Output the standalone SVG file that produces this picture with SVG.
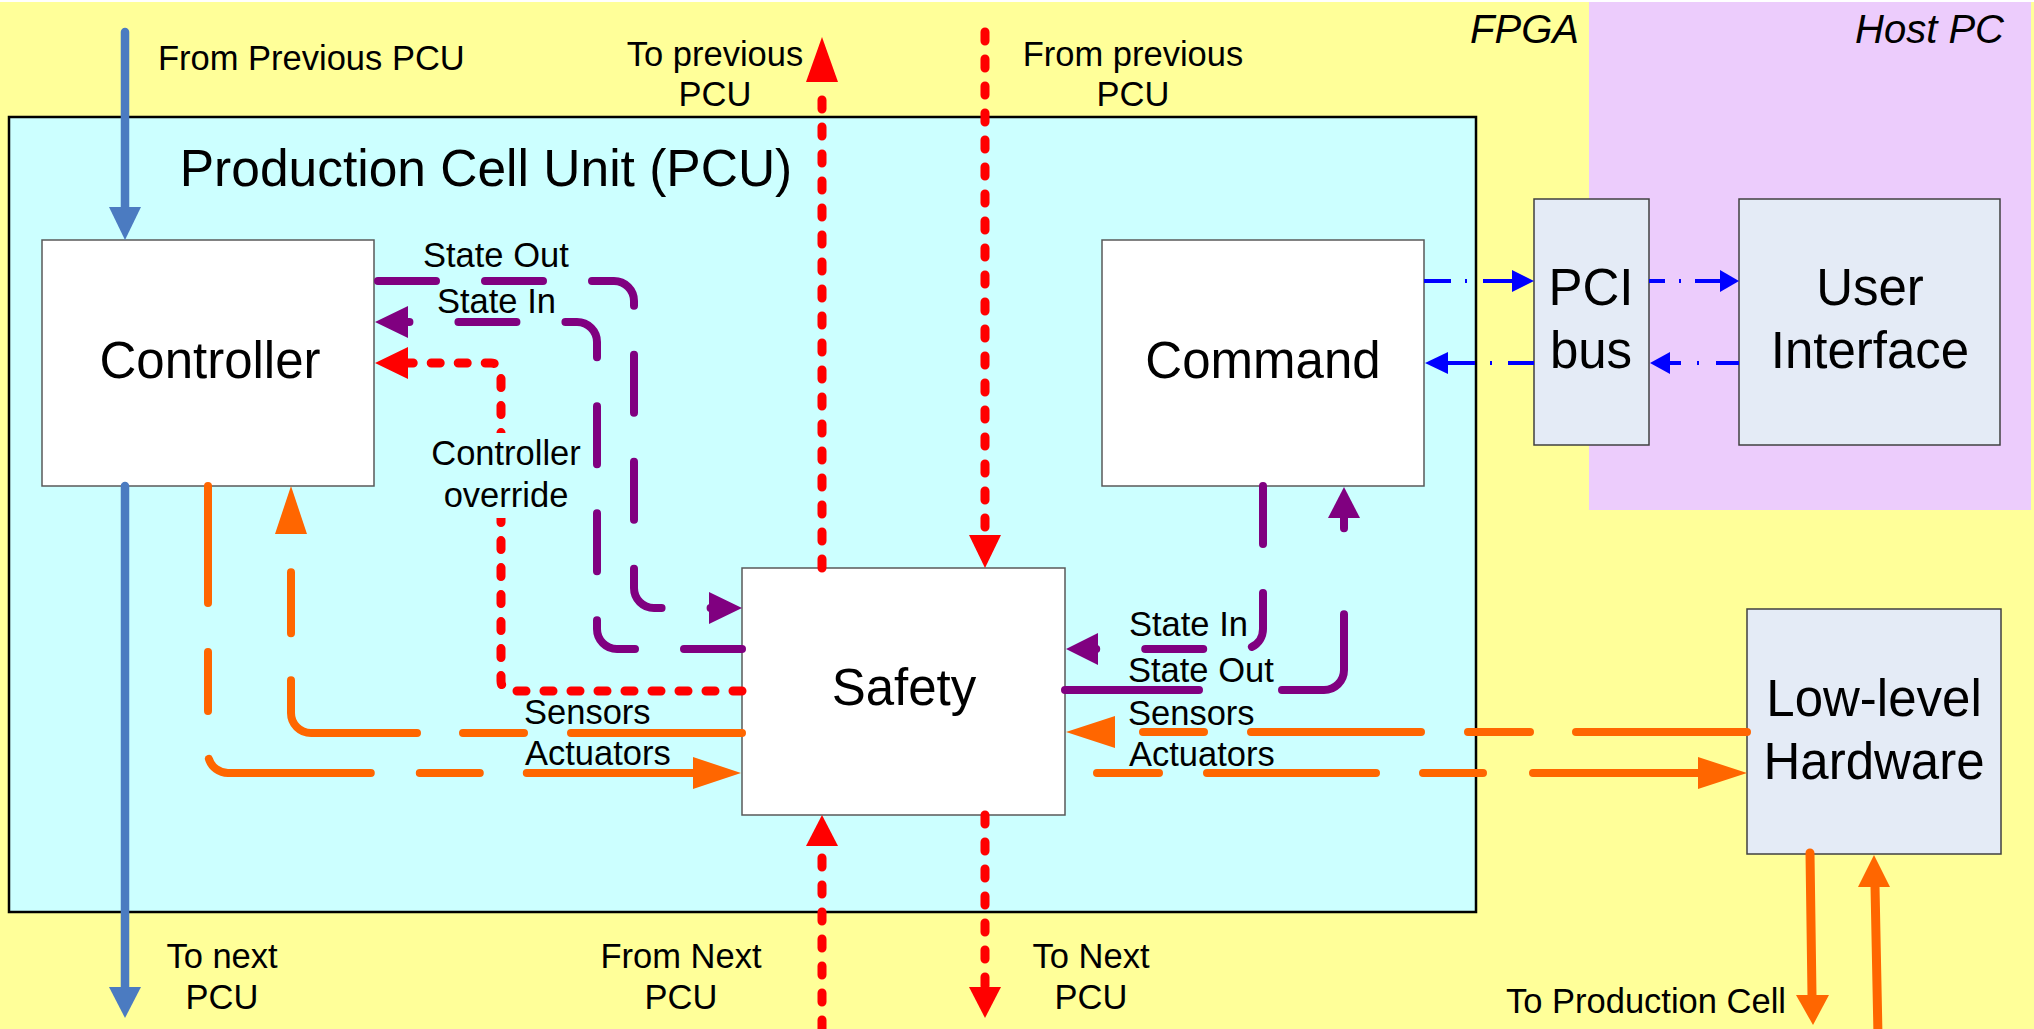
<svg xmlns="http://www.w3.org/2000/svg" width="2034" height="1029" viewBox="0 0 2034 1029">
<defs>
<style>
text{font-family:"Liberation Sans",Arial,sans-serif;fill:#000}
.big{font-size:51px}
.lbl{font-size:34.5px}
.reg{font-size:40px;font-style:italic}
.mid{text-anchor:middle}
.wbox{fill:#fff;stroke:#595959;stroke-width:1.5}
.gbox{fill:#E4EBF6;stroke:#404040;stroke-width:1.5}
.pur{fill:none;stroke:#800080;stroke-width:8;stroke-linecap:round}
.org{fill:none;stroke:#FF6600;stroke-width:8;stroke-linecap:round}
.red{fill:none;stroke:#FF0000;stroke-width:9;stroke-linecap:round;stroke-dasharray:9 18}
.blu{fill:none;stroke:#0000FF;stroke-width:4}
.stb{fill:none;stroke:#4B7BC1;stroke-width:8.5;stroke-linecap:round}
.hp{fill:#800080}.ho{fill:#FF6600}.hr{fill:#FF0000}.hb{fill:#0000FF}.hs{fill:#4B7BC1}
</style>
</defs>
<rect width="2034" height="1029" fill="#fff"/>
<g id="fpga-region">
<rect x="0" y="2" width="2034" height="1027" fill="#FFFF99"/>
<text class="reg" x="1579" y="43" text-anchor="end">FPGA</text>
</g>
<g id="host-region">
<rect x="1589" y="2" width="442" height="508" fill="#ECCCFC"/>
<text class="reg" x="2004" y="43" text-anchor="end">Host PC</text>
</g>
<g id="pcu">
<rect x="9" y="117" width="1467" height="795" fill="#CCFFFF" stroke="#000" stroke-width="2.5"/>
<text x="486" y="186" class="mid" style="font-size:51.5px">Production Cell Unit (PCU)</text>
</g>
<g id="controller">
<rect class="wbox" x="42" y="240" width="332" height="246"/>
<text class="big mid" x="210" y="378">Controller</text>
</g>
<g id="command">
<rect class="wbox" x="1102" y="240" width="322" height="246"/>
<text class="big mid" x="1263" y="378">Command</text>
</g>
<g id="safety">
<rect class="wbox" x="742" y="568" width="323" height="247"/>
<text class="big mid" x="904" y="705">Safety</text>
</g>
<g id="pci-bus">
<rect class="gbox" x="1534" y="199" width="115" height="246"/>
<text class="big mid" x="1591" y="305">PCI</text>
<text class="big mid" x="1591" y="368">bus</text>
</g>
<g id="user-interface">
<rect class="gbox" x="1739" y="199" width="261" height="246"/>
<text class="big mid" x="1870" y="305">User</text>
<text class="big mid" x="1870" y="368">Interface</text>
</g>
<g id="low-level-hardware">
<rect class="gbox" x="1747" y="609" width="254" height="245"/>
<text class="big mid" x="1874" y="716">Low-level</text>
<text class="big mid" x="1874" y="779">Hardware</text>
</g>
<g id="connectors">
<!-- PCU chain (steel blue) -->
<path class="stb" d="M125 32V208"/>
<polygon class="hs" points="109,207 141,207 125,240"/>
<path class="stb" d="M125 486V988"/>
<polygon class="hs" points="109,987 141,987 125,1018"/>
<!-- red safety chain -->
<path class="red" d="M822 568V84"/>
<polygon class="hr" points="806,82 838,82 822,37"/>
<path class="red" d="M985 32V535"/>
<polygon class="hr" points="969,535 1001,535 985,568"/>
<path class="red" d="M822 1029V847"/>
<polygon class="hr" points="806,846 838,846 822,815"/>
<path class="red" d="M985 815V987"/>
<polygon class="hr" points="969,987 1001,987 985,1018"/>
<!-- controller override -->
<path class="red" d="M742 691H511A10 10 0 0 1 501 681V373A10 10 0 0 0 491 363H408"/>
<polygon class="hr" points="408,347 408,379 375,363"/>
<!-- State Out (Controller -> Safety) -->
<path class="pur" stroke-dasharray="58 49" d="M378 281H614A20 20 0 0 1 634 301V588A20 20 0 0 0 654 608H712"/>
<polygon class="hp" points="709,592 709,624 742,608"/>
<!-- State In (Safety -> Controller) -->
<path class="pur" stroke-dasharray="58 49" d="M742 649H617A20 20 0 0 1 597 629V342A20 20 0 0 0 577 322H405"/>
<polygon class="hp" points="408,306 408,338 375,322"/>
<!-- State In (Command -> Safety) -->
<path class="pur" stroke-dasharray="58 49" d="M1263 486V629A20 20 0 0 1 1243 649H1095"/>
<polygon class="hp" points="1098,633 1098,665 1066,649"/>
<!-- State Out (Safety -> Command) -->
<path class="pur" stroke-dasharray="134 83 129 86 20" d="M1065 690H1324A20 20 0 0 0 1344 670V518"/>
<polygon class="hp" points="1328,518 1360,518 1344,487"/>
<!-- Actuators (Controller -> Safety) -->
<path class="org" stroke-dasharray="117 49 59 48 168 49 60 47 200" d="M208 486V753A20 20 0 0 0 228 773H694"/>
<polygon class="ho" points="693,757 693,789 741,773"/>
<!-- Sensors (Safety -> Controller) -->
<path class="org" stroke-dasharray="171 47 61 46 170 47 61 200" d="M742 733H311A20 20 0 0 1 291 713V534"/>
<polygon class="ho" points="275,534 307,534 291,486"/>
<!-- Sensors (Hardware -> Safety) -->
<path class="org" stroke-dasharray="171 46 62 47 170 47 61 200" d="M1747 732H1114"/>
<polygon class="ho" points="1115,716 1115,748 1066,732"/>
<!-- Actuators (Safety -> Hardware) -->
<path class="org" stroke-dasharray="62 48 169 47 60 50 300" d="M1097 773H1699"/>
<polygon class="ho" points="1698,757 1698,789 1747,773"/>
<!-- Hardware <-> Production Cell -->
<path class="org" style="stroke-width:9" d="M1810 853L1812 996"/>
<polygon class="ho" points="1796,995 1829,995 1813,1025"/>
<path class="org" style="stroke-width:9" d="M1878 1036L1875 886"/>
<polygon class="ho" points="1858,887 1890,887 1874,855"/>
<!-- PCI links -->
<path class="blu" stroke-dasharray="27 14 2 16 30" d="M1424 281H1513"/>
<polygon class="hb" points="1512,270 1512,292 1534,281"/>
<path class="blu" stroke-dasharray="16 14 2 14 30" d="M1649 281H1721"/>
<polygon class="hb" points="1720,270 1720,292 1739,281"/>
<path class="blu" stroke-dasharray="23 17 2 16 30" d="M1739 363H1669"/>
<polygon class="hb" points="1670,352 1670,374 1650,363"/>
<path class="blu" stroke-dasharray="26 16 2 15 30" d="M1534 363H1447"/>
<polygon class="hb" points="1448,352 1448,374 1425,363"/>
</g>
<g id="labels">
<text class="lbl" x="158" y="70">From Previous PCU</text>
<text class="lbl mid" x="715" y="66">To previous</text>
<text class="lbl mid" x="715" y="106">PCU</text>
<text class="lbl mid" x="1133" y="66">From previous</text>
<text class="lbl mid" x="1133" y="106">PCU</text>
<text class="lbl" x="423" y="267">State Out</text>
<text class="lbl" x="437" y="313">State In</text>
<rect x="426" y="433" width="161" height="85" fill="#CCFFFF"/>
<text class="lbl mid" x="506" y="465">Controller</text>
<text class="lbl mid" x="506" y="507">override</text>
<text class="lbl" x="524" y="724">Sensors</text>
<text class="lbl" x="525" y="765">Actuators</text>
<text class="lbl" x="1129" y="636">State In</text>
<text class="lbl" x="1128" y="682">State Out</text>
<text class="lbl" x="1128" y="725">Sensors</text>
<text class="lbl" x="1129" y="766">Actuators</text>
<text class="lbl mid" x="222" y="968">To next</text>
<text class="lbl mid" x="222" y="1009">PCU</text>
<text class="lbl mid" x="681" y="968">From Next</text>
<text class="lbl mid" x="681" y="1009">PCU</text>
<text class="lbl mid" x="1091" y="968">To Next</text>
<text class="lbl mid" x="1091" y="1009">PCU</text>
<text class="lbl" x="1506" y="1013">To Production Cell</text>
</g>
</svg>
